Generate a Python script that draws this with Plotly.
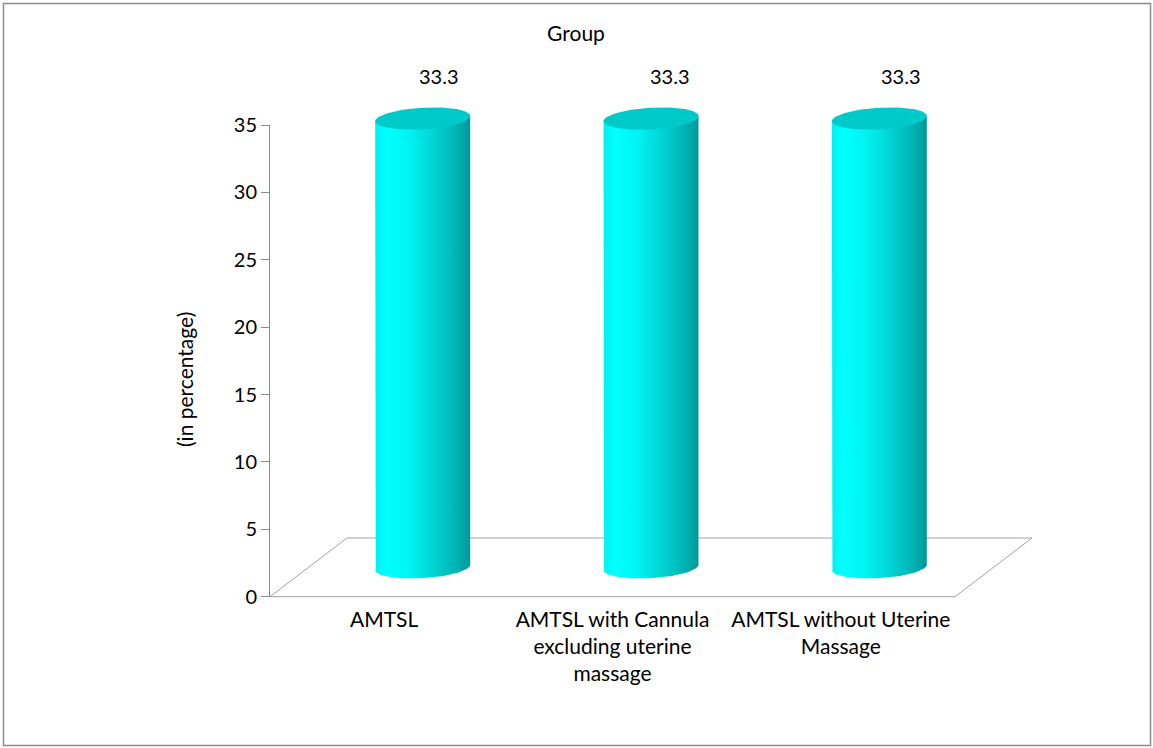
import numpy as np
import plotly.graph_objects as go

# ---- data ----
categories = [
    "AMTSL",
    "AMTSL with Cannula<br>excluding uterine<br>massage",
    "AMTSL without Uterine<br>Massage",
]
values = [33.3, 33.3, 33.3]
value_labels = ["33.3", "33.3", "33.3"]
y_ticks = [0, 5, 10, 15, 20, 25, 30, 35]
y_max = 35
chart_title = "Group"
y_title = "(in percentage)"

# ---- page geometry (pixels) ----
W, H = 1153, 748
FRONT_LEFT, FRONT_RIGHT = 270, 955      # front edge of the floor
ZERO_PX, TOP_PX = 596.7, 125            # y = 0 and y = y_max
DEPTH_DX, DEPTH_DY = 77, 58.7           # floor depth offset
CYL_HALF_W, CYL_ELL_B, CYL_SHEAR = 47.5, 10.8, 2.6
FONT = "Lato"
FS_NUM = 20
FS_TXT = 21

n = len(categories)
ux = n / (FRONT_RIGHT - FRONT_LEFT)          # category units per px
uy = y_max / (ZERO_PX - TOP_PX)              # value units per px


def fx(px):
    return px / W


def fy(px):
    return 1 - px / H


# drawing window (same scale as the visible axes, larger extent)
DRAW_L, DRAW_R, DRAW_T, DRAW_B = 240, 1070, 40, 620
x2_range = [(DRAW_L - FRONT_LEFT) * ux, (DRAW_R - FRONT_LEFT) * ux]
y2_range = [(ZERO_PX - DRAW_B) * uy, (ZERO_PX - DRAW_T) * uy]

dx = DEPTH_DX * ux
dy = DEPTH_DY * uy
a = CYL_HALF_W * ux
b = CYL_ELL_B * uy
s = CYL_SHEAR * uy

fig = go.Figure()

# holder trace so the category / value axes are drawn
fig.add_trace(go.Scatter(
    x=[i + 0.5 for i in range(n)], y=values, mode="none",
    hoverinfo="skip", showlegend=False,
))

# floor outline
fig.add_trace(go.Scatter(
    x=[0, dx, n + dx, n, 0], y=[0, dy, dy, 0, 0],
    xaxis="x2", yaxis="y2", mode="lines",
    line=dict(color="#a3a3a3", width=1),
    hoverinfo="skip", showlegend=False,
))

body_scale = [
    [0.0, "#00F2F2"], [0.12, "#00FFFF"], [0.35, "#00F4F4"],
    [0.6, "#00D6D6"], [0.85, "#00B4B4"], [1.0, "#009898"],
]

t_front = np.linspace(np.pi, 2 * np.pi, 60)
t_full = np.linspace(0, 2 * np.pi, 120)
label_shift = [16, 19, 22]

for i, v in enumerate(values):
    xc = i + 0.5 + dx / 2
    yb = dy / 2
    yt = yb + v

    # cylinder side
    bx = np.concatenate([[xc - a], xc + a * np.cos(t_front), [xc + a]])
    by = np.concatenate([[yt - s], yb + b * np.sin(t_front) + s * np.cos(t_front), [yt + s]])
    fig.add_trace(go.Scatter(
        x=bx, y=by, xaxis="x2", yaxis="y2", mode="lines",
        fill="toself",
        fillgradient=dict(type="horizontal", colorscale=body_scale),
        line=dict(width=0, color="rgba(0,0,0,0)"),
        hoverinfo="skip", showlegend=False,
    ))

    # cylinder top
    fig.add_trace(go.Scatter(
        x=xc + a * np.cos(t_full),
        y=yt + b * np.sin(t_full) + s * np.cos(t_full),
        xaxis="x2", yaxis="y2", mode="lines", fill="toself",
        fillcolor="#00C9C9", line=dict(width=0, color="rgba(0,0,0,0)"),
        hoverinfo="skip", showlegend=False,
    ))

    fig.add_annotation(
        x=xc, y=yt, xref="x2", yref="y2", text=value_labels[i],
        showarrow=False, xshift=label_shift[i], yshift=43,
        font=dict(family=FONT, size=FS_NUM, color="#000000"),
    )

# axis title
fig.add_annotation(
    x=fx(184), y=fy(380), xref="paper", yref="paper", text=y_title,
    xanchor="center", yanchor="middle",
    showarrow=False, textangle=-90,
    font=dict(family=FONT, size=FS_TXT, color="#000000"),
)

fig.update_layout(
    template="none",
    width=W, height=H,
    margin=dict(l=0, r=0, t=0, b=0, pad=0, autoexpand=False),
    paper_bgcolor="#ffffff",
    plot_bgcolor="rgba(0,0,0,0)",
    font=dict(family=FONT, size=FS_NUM, color="#000000"),
    title=dict(text=chart_title, x=fx(576), y=fy(34), xanchor="center", yanchor="middle",
               font=dict(family=FONT, size=FS_TXT, color="#000000")),
    xaxis=dict(
        domain=[fx(FRONT_LEFT), fx(FRONT_RIGHT)], range=[0, n],
        tickmode="array", tickvals=[i + 0.5 for i in range(n)], ticktext=categories,
        tickfont=dict(family=FONT, size=FS_TXT, color="#000000"),
        showline=False, showgrid=False, zeroline=False, ticks="",
        ticklabelstandoff=8, fixedrange=True, automargin=False,
    ),
    yaxis=dict(
        domain=[fy(ZERO_PX), fy(TOP_PX)], range=[0, y_max],
        tickmode="array", tickvals=y_ticks,
        tickfont=dict(family=FONT, size=FS_NUM, color="#000000"),
        showline=True, linecolor="#8a8a8a", linewidth=1,
        ticks="outside", ticklen=8, tickcolor="#8a8a8a", tickwidth=1,
        showgrid=False, zeroline=False, fixedrange=True, automargin=False,
    ),
    xaxis2=dict(domain=[fx(DRAW_L), fx(DRAW_R)], range=x2_range, visible=False,
                anchor="y2", fixedrange=True, automargin=False),
    yaxis2=dict(domain=[fy(DRAW_B), fy(DRAW_T)], range=y2_range, visible=False,
                anchor="x2", fixedrange=True, automargin=False),
    shapes=[dict(type="rect", xref="paper", yref="paper",
                 x0=fx(3.5), x1=fx(1150.5), y0=fy(745.5), y1=fy(3.5),
                 line=dict(color="#8c8c8c", width=1.5), layer="above")],
)

fig.write_html("out.html")
